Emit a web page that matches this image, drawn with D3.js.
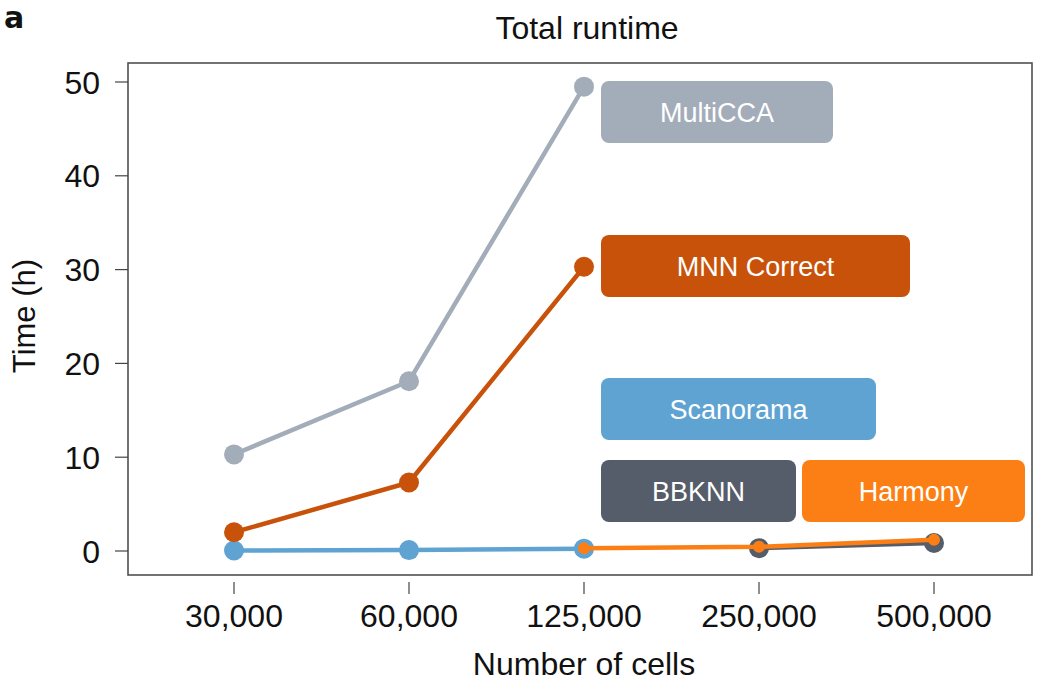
<!DOCTYPE html>
<html>
<head>
<meta charset="utf-8">
<script src="https://cdn.jsdelivr.net/npm/d3@7"></script>
<style>
  body { margin: 0; background: #fff; }
  svg { display: block; font-family: "Liberation Sans", Arial, Helvetica, sans-serif; }
</style>
</head>
<body>
<svg id="chart" width="1040" height="684"></svg>
<script>
// Number of cells on the x axis
const cellCounts = ["30,000", "60,000", "125,000", "250,000", "500,000"];
const yTicks = [0, 10, 20, 30, 40, 50];

// Runtime in hours per method (null = not run at that size)
const multiCCA   = [10.3, 18.1, 49.5, null, null];
const mnnCorrect = [2.0, 7.3, 30.3, null, null];
const scanorama  = [0.05, 0.1, 0.25, null, null];
const bbknn      = [null, null, null, 0.3, 0.85];
const harmony    = [null, null, 0.3, 0.45, 1.2];

// Drawing order: later entries sit on top
const methodNames  = ["Scanorama", "BBKNN", "Harmony", "MNN Correct", "MultiCCA"];
const methodValues = [scanorama, bbknn, harmony, mnnCorrect, multiCCA];
const methodColors = ["#5fa3d2", "#555c6a", "#fb7f14", "#c9520b", "#a3adb9"];
const pointRadius  = [10, 10, 6, 10, 10];

const svg = d3.select("#chart");

// Plot frame
const frame = { left: 128, right: 1032, top: 63, bottom: 575 };

const x = d3.scalePoint().domain(cellCounts).range([234, 934]);
const y = d3.scaleLinear().domain([0, 50]).range([551, 82]);

svg.append("rect")
  .attr("x", frame.left).attr("y", frame.top)
  .attr("width", frame.right - frame.left).attr("height", frame.bottom - frame.top)
  .attr("fill", "none").attr("stroke", "#505050").attr("stroke-width", 1.6);

// Y axis ticks and labels
const yAxis = svg.append("g");
yAxis.selectAll("line").data(yTicks).join("line")
  .attr("x1", 115).attr("x2", frame.left)
  .attr("y1", d => y(d)).attr("y2", d => y(d))
  .attr("stroke", "#444").attr("stroke-width", 1.2);
yAxis.selectAll("text").data(yTicks).join("text")
  .attr("x", 100).attr("y", d => y(d))
  .attr("dy", "0.36em").attr("text-anchor", "end")
  .attr("font-size", 32).attr("fill", "#111")
  .text(d => d);

// X axis ticks and labels
const xAxis = svg.append("g");
xAxis.selectAll("line").data(cellCounts).join("line")
  .attr("x1", d => x(d)).attr("x2", d => x(d))
  .attr("y1", 582).attr("y2", 594)
  .attr("stroke", "#444").attr("stroke-width", 1.2);
xAxis.selectAll("text").data(cellCounts).join("text")
  .attr("x", d => x(d)).attr("y", 627)
  .attr("text-anchor", "middle")
  .attr("font-size", 32).attr("fill", "#111")
  .text(d => d);

// Titles
svg.append("text").attr("x", 587).attr("y", 39)
  .attr("text-anchor", "middle").attr("font-size", 32).attr("fill", "#111")
  .text("Total runtime");
svg.append("text").attr("x", 584).attr("y", 675)
  .attr("text-anchor", "middle").attr("font-size", 32).attr("fill", "#111")
  .text("Number of cells");
svg.append("text")
  .attr("transform", "translate(35,316) rotate(-90)")
  .attr("text-anchor", "middle").attr("font-size", 31).attr("fill", "#111")
  .text("Time (h)");
// Panel letter
svg.append("text").attr("x", 4).attr("y", 28)
  .style("font-family", "'DejaVu Sans', sans-serif")
  .attr("font-size", 30).attr("font-weight", "bold").attr("fill", "#111")
  .text("a");

// Series lines and points
const line = d3.line()
  .defined(d => d.v !== null)
  .x(d => x(d.c)).y(d => y(d.v));

methodNames.forEach((name, i) => {
  const pts = cellCounts.map((c, j) => ({ c, v: methodValues[i][j] }));
  const g = svg.append("g");
  g.append("path").datum(pts)
    .attr("d", line).attr("fill", "none")
    .attr("stroke", methodColors[i]).attr("stroke-width", 4.5)
    .attr("stroke-linejoin", "round");
  g.selectAll("circle").data(pts.filter(d => d.v !== null)).join("circle")
    .attr("cx", d => x(d.c)).attr("cy", d => y(d.v)).attr("r", pointRadius[i])
    .attr("fill", methodColors[i]);
});

// Method name badges
const badges = [
  { name: "MultiCCA",    x: 601, y: 81,  w: 232, h: 62 },
  { name: "MNN Correct", x: 601, y: 235, w: 309, h: 62 },
  { name: "Scanorama",   x: 601, y: 378, w: 275, h: 62 },
  { name: "BBKNN",       x: 601, y: 460, w: 195, h: 62 },
  { name: "Harmony",     x: 802, y: 460, w: 223, h: 62 }
];
const badgeG = svg.append("g");
badges.forEach(b => {
  const col = methodColors[methodNames.indexOf(b.name)];
  badgeG.append("rect")
    .attr("x", b.x).attr("y", b.y).attr("width", b.w).attr("height", b.h)
    .attr("rx", 8).attr("fill", col);
  badgeG.append("text")
    .attr("x", b.x + b.w / 2).attr("y", b.y + b.h / 2)
    .attr("dy", "0.36em").attr("text-anchor", "middle")
    .attr("font-size", 27).attr("fill", "#fff")
    .text(b.name);
});
</script>
</body>
</html>
